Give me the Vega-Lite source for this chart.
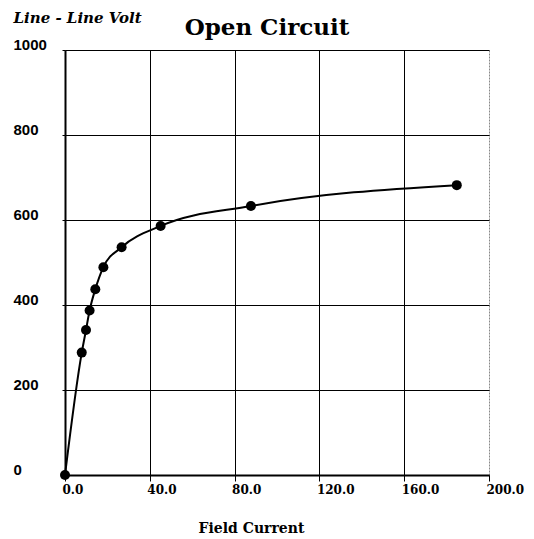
{
  "$schema": "https://vega.github.io/schema/vega-lite/v6.json",
  "width": 424,
  "height": 425,
  "autosize": "none",
  "padding": {"left": 65, "top": 50, "right": 45, "bottom": 64},
  "background": "white",
  "title": {
    "text": "Open Circuit",
    "anchor": "middle",
    "frame": "group",
    "font": "DejaVu Serif",
    "fontSize": 23,
    "fontWeight": "bold",
    "color": "black",
    "baseline": "alphabetic",
    "offset": -48,
    "dx": -10
  },
  "config": {
    "view": {"stroke": null},
    "axis": {
      "gridColor": "black",
      "gridOpacity": 1,
      "gridWidth": 1,
      "domainColor": "black",
      "domainWidth": 2,
      "tickColor": "black",
      "tickWidth": 1,
      "labelColor": "black",
      "titleColor": "black"
    }
  },
  "data": {
    "values": [
      {"current": 0, "volt": 0},
      {"current": 7.9, "volt": 288},
      {"current": 9.9, "volt": 341},
      {"current": 11.6, "volt": 387},
      {"current": 14.3, "volt": 437},
      {"current": 18.1, "volt": 489},
      {"current": 26.7, "volt": 536},
      {"current": 45.1, "volt": 586},
      {"current": 87.7, "volt": 633},
      {"current": 184.8, "volt": 682}
    ]
  },
  "encoding": {
    "x": {
      "field": "current",
      "type": "quantitative",
      "scale": {"domain": [0, 200], "nice": false, "zero": false},
      "axis": {
        "values": [0, 40, 80, 120, 160, 200],
        "format": ".1f",
        "title": "Field Current",
        "titleFont": "DejaVu Serif",
        "titleFontSize": 14,
        "titleFontWeight": "bold",
        "titleX": 186,
        "titleY": 57,
        "titleAlign": "center",
        "titleBaseline": "alphabetic",
        "labelFont": "DejaVu Serif",
        "labelFontSize": 12,
        "labelFontWeight": "bold",
        "labelAlign": "left",
        "labelOffset": -3,
        "labelPadding": 3,
        "labelBaseline": "top",
        "tickSize": 6,
        "labelFlush": false,
        "labelOverlap": false,
        "gridColor": {"condition": {"test": "datum.value == 200", "value": "#888888"}, "value": "black"},
        "gridDash": {"condition": {"test": "datum.value == 200", "value": [2, 1]}, "value": []}
      }
    },
    "y": {
      "field": "volt",
      "type": "quantitative",
      "scale": {"domain": [0, 1000], "nice": false},
      "axis": {
        "values": [0, 200, 400, 600, 800, 1000],
        "format": "d",
        "title": "Line - Line Volt",
        "titleFont": "DejaVu Serif",
        "titleFontSize": 15,
        "titleFontWeight": "bold",
        "titleFontStyle": "italic",
        "titleAngle": 0,
        "titleAlign": "left",
        "titleBaseline": "middle",
        "titleX": -52,
        "titleY": -33,
        "labelFont": "Liberation Sans",
        "labelFontSize": 15,
        "labelFontWeight": "bold",
        "labelAlign": "left",
        "labelBaseline": "alphabetic",
        "labelOffset": -1,
        "labelPadding": 49,
        "tickSize": 3,
        "labelFlush": false,
        "labelOverlap": false
      }
    }
  },
  "layer": [
    {
      "mark": {"type": "line", "color": "black", "strokeWidth": 2, "interpolate": "monotone"}
    },
    {
      "mark": {"type": "point", "filled": true, "color": "black", "opacity": 1, "size": 100, "shape": "circle"}
    }
  ]
}
